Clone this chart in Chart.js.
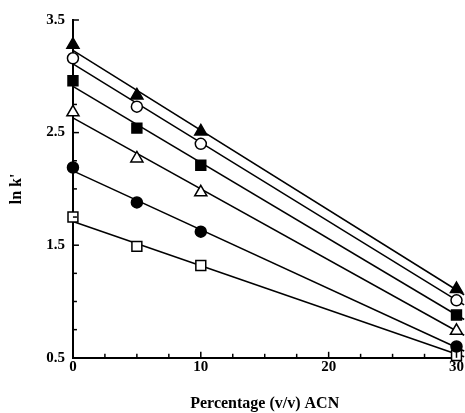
<!DOCTYPE html>
<html>
<head>
<meta charset="utf-8">
<script src="https://cdn.jsdelivr.net/npm/chart.js@4"></script>
<style>
  html, body { margin: 0; padding: 0; background: #fff; }
  #wrap { width: 465px; height: 413px; }
</style>
</head>
<body>
<div id="wrap"><canvas id="myChart"></canvas></div>
<script>
// ACN percentage (x values of the measured points)
const acn = [0, 5, 10, 30];

// ln k', one array per solute
const filledTriangle = [3.28, 2.83, 2.51, 1.11];
const openCircle     = [3.16, 2.73, 2.40, 1.01];
const filledSquare   = [2.96, 2.54, 2.21, 0.88];
const openTriangle   = [2.68, 2.27, 1.97, 0.74];
const filledCircle   = [2.19, 1.88, 1.62, 0.60];
const openSquare     = [1.75, 1.49, 1.32, 0.52];

// fitted lines, read at both ends of the axis
const fitX     = [0, 30.6];
const fitStart = [3.23, 3.11, 2.91, 2.63, 2.16, 1.71];
const fitEnd   = [1.06, 0.97, 0.84, 0.70, 0.56, 0.51];

const xLabels = [0, 10, 20, 30];
const yLabels = [0.5, 1.5, 2.5, 3.5];

const series = [
  { values: filledTriangle, style: 'triangle', fill: '#000', r: 7 },
  { values: openCircle,     style: 'circle',   fill: '#fff', r: 5.5 },
  { values: filledSquare,   style: 'rect',     fill: '#000', r: 7 },
  { values: openTriangle,   style: 'triangle', fill: '#fff', r: 7 },
  { values: filledCircle,   style: 'circle',   fill: '#000', r: 5.5 },
  { values: openSquare,     style: 'rect',     fill: '#fff', r: 7 }
];

const datasets = [];
series.forEach((s, i) => {
  datasets.push({
    type: 'line',
    data: fitX.map((x, j) => ({ x: x, y: j === 0 ? fitStart[i] : fitEnd[i] })),
    borderColor: '#000',
    borderWidth: 1.5,
    pointRadius: 0,
    clip: false,
    order: 2
  });
});
series.forEach(s => {
  datasets.push({
    type: 'scatter',
    data: acn.map((x, j) => ({ x: x, y: s.values[j] })),
    pointStyle: s.style,
    pointRadius: s.r,
    pointHoverRadius: s.r,
    backgroundColor: s.fill,
    borderColor: '#000',
    borderWidth: 1.5,
    clip: false,
    order: 1
  });
});

// small inward tick marks, like the printed figure
const inwardTicks = {
  id: 'inwardTicks',
  afterDatasetsDraw(chart) {
    const c = chart.ctx;
    const xs = chart.scales.x, ys = chart.scales.y;
    c.save();
    c.strokeStyle = '#000';
    c.lineWidth = 1.5;
    xs.ticks.forEach(t => {
      const px = xs.getPixelForValue(t.value);
      const len = xLabels.includes(t.value) ? 6 : 4;
      c.beginPath();
      c.moveTo(px, ys.bottom);
      c.lineTo(px, ys.bottom - len);
      c.stroke();
    });
    ys.ticks.forEach(t => {
      const py = ys.getPixelForValue(t.value);
      const len = yLabels.some(v => Math.abs(v - t.value) < 1e-6) ? 6 : 4;
      c.beginPath();
      c.moveTo(xs.left, py);
      c.lineTo(xs.left + len, py);
      c.stroke();
    });
    c.restore();
  }
};

const tickFont = { family: 'Liberation Serif', size: 15, weight: 'bold' };
const titleFont = { family: 'Liberation Serif', size: 16, weight: 'bold' };

const config = {
  data: { datasets: datasets },
  options: {
    responsive: true,
    maintainAspectRatio: false,
    animation: false,
    layout: { padding: { left: 7, right: 4, top: 20, bottom: 0 } },
    plugins: {
      legend: { display: false },
      tooltip: { enabled: false }
    },
    scales: {
      x: {
        type: 'linear',
        min: 0,
        max: 30,
        grid: { display: false, drawTicks: false },
        border: { display: true, color: '#000', width: 2 },
        ticks: {
          stepSize: 2.5,
          autoSkip: false,
          maxRotation: 0,
          padding: 0,
          color: '#000',
          font: tickFont,
          callback: v => xLabels.includes(v) ? String(v) : ''
        },
        title: {
          display: true,
          text: 'Percentage (v/v) ACN',
          color: '#000',
          font: titleFont,
          padding: { top: 18, bottom: 0 }
        }
      },
      y: {
        type: 'linear',
        min: 0.5,
        max: 3.5,
        grid: { display: false, drawTicks: false },
        border: { display: true, color: '#000', width: 2 },
        ticks: {
          stepSize: 0.25,
          autoSkip: false,
          padding: 8,
          color: '#000',
          font: tickFont,
          callback: v => yLabels.some(l => Math.abs(l - v) < 1e-6) ? v.toFixed(1) : ''
        },
        title: {
          display: true,
          text: "ln k'",
          color: '#000',
          font: titleFont,
          padding: { top: 0, bottom: 12 }
        }
      }
    }
  },
  plugins: [inwardTicks]
};

const myChart = new Chart(document.getElementById('myChart'), config);
</script>
</body>
</html>
